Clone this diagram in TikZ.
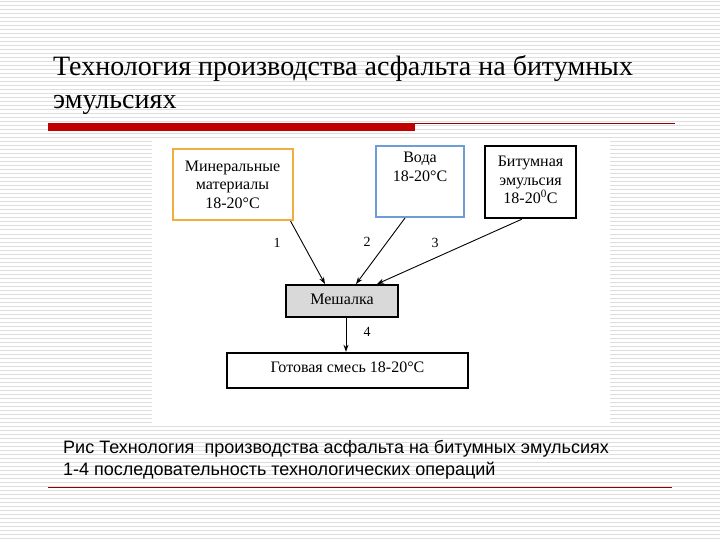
\documentclass[tikz,border=0pt]{standalone}
\usepackage{fontspec}
\setmainfont{Liberation Serif}
\setsansfont{Liberation Sans}
\usetikzlibrary{calc, positioning}
\usetikzlibrary{arrows.meta}

\definecolor{slidered}{HTML}{C00000}
\definecolor{mineralcol}{HTML}{F2AE3C}
\definecolor{watercol}{HTML}{6E9CD6}
\definecolor{mixfill}{HTML}{D9D9D9}

\tikzset{
  stripe/.style={draw=black!13, line width=1pt},
  title/.style={font=\fontsize{28}{32}\selectfont, inner sep=0pt},
  caption/.style={font=\sffamily\fontsize{18}{22}\selectfont, inner sep=0pt},
  box/.style={draw, line width=2pt, fill=white, inner sep=0pt},
  boxtext/.style={align=center, inner sep=0pt, font=\fontsize{16}{18.5}\selectfont},
  flow/.style={line width=0.9pt, -{Stealth[length=7pt,width=5pt]}},
  num/.style={font=\fontsize{14}{14}\selectfont, inner sep=0pt},
}

\begin{document}
\begin{tikzpicture}[x=1pt, y=-1pt]
  \useasboundingbox (0,0) rectangle (720,540);

  % striped slide background
  \foreach \y in {2,6,...,538}
    \draw[stripe] (0,\y) -- (720,\y);
  \fill[white] (152,140) rectangle (610,425);

  % title
  \node[title, anchor=base west] (title1) at (53,76) {Технология производства асфальта на битумных};
  \node[title, anchor=base west] (title2) at (53,109) {эмульсиях};
  \fill[slidered] (48,123) rectangle (415,131);
  \draw[slidered!75!black, line width=1pt] (415,123.5) -- (675,123.5);

  % input boxes
  \node[box, draw=mineralcol, minimum width=120pt, minimum height=71pt] (mineral) at (232.5,184.5) {};
  \node[boxtext] (mineraltxt) at (mineral) {Минеральные\\материалы\\18-20°C};
  \node[box, draw=watercol, minimum width=88pt, minimum height=71pt] (water) at (420,181.5) {};
  \node[boxtext, below=7pt of water.north] (watertxt) {Вода\\18-20°C};
  \node[box, draw=black, line width=2.4pt, minimum width=91pt, minimum height=72pt] (bitumen) at (530.5,182) {};
  \node[boxtext] (bitumentxt) at ($(bitumen)+(0,-2)$) {Битумная\\эмульсия\\18-20\textsuperscript{0}C};

  % mixer and product
  \node[box, fill=mixfill, minimum width=112pt, minimum height=32pt] (mixer) at (342,301) {};
  \node[boxtext] (mixertxt) at ($(mixer)+(0,-2)$) {Мешалка};
  \node[box, line width=2.4pt, minimum width=241pt, minimum height=35pt] (product) at (347.5,370.5) {};
  \node[boxtext] (producttxt) at ($(product)+(0,-3)$) {Готовая смесь 18-20°C};

  % operations 1-4
  \draw[flow] ($(mineral.south east)+(-3,0)$) -- ($(mixer.north west)+(40,0)$);
  \draw[flow] ($(water.south west)+(30,0)$) -- ($(mixer.north west)+(71,0)$);
  \draw[flow] ($(bitumen.south west)+(38,0)$) -- ($(mixer.north west)+(92,0)$);
  \draw[flow] (mixer.south -| 346,0) -- (product.north -| 346,0);
  \node[num] (n1) at (277,243) {1};
  \node[num] (n2) at (367,242) {2};
  \node[num] (n3) at (435,243) {3};
  \node[num] (n4) at (367,332) {4};

  % caption
  \node[caption, anchor=base west] (cap1) at (63,453) {Рис Технология\ \ производства асфальта на битумных эмульсиях};
  \node[caption, anchor=base west] (cap2) at (63,475) {1-4 последовательность технологических операций};
  \draw[slidered!75!black, line width=0.8pt] (48,487) -- (672,487);
\end{tikzpicture}
\end{document}
